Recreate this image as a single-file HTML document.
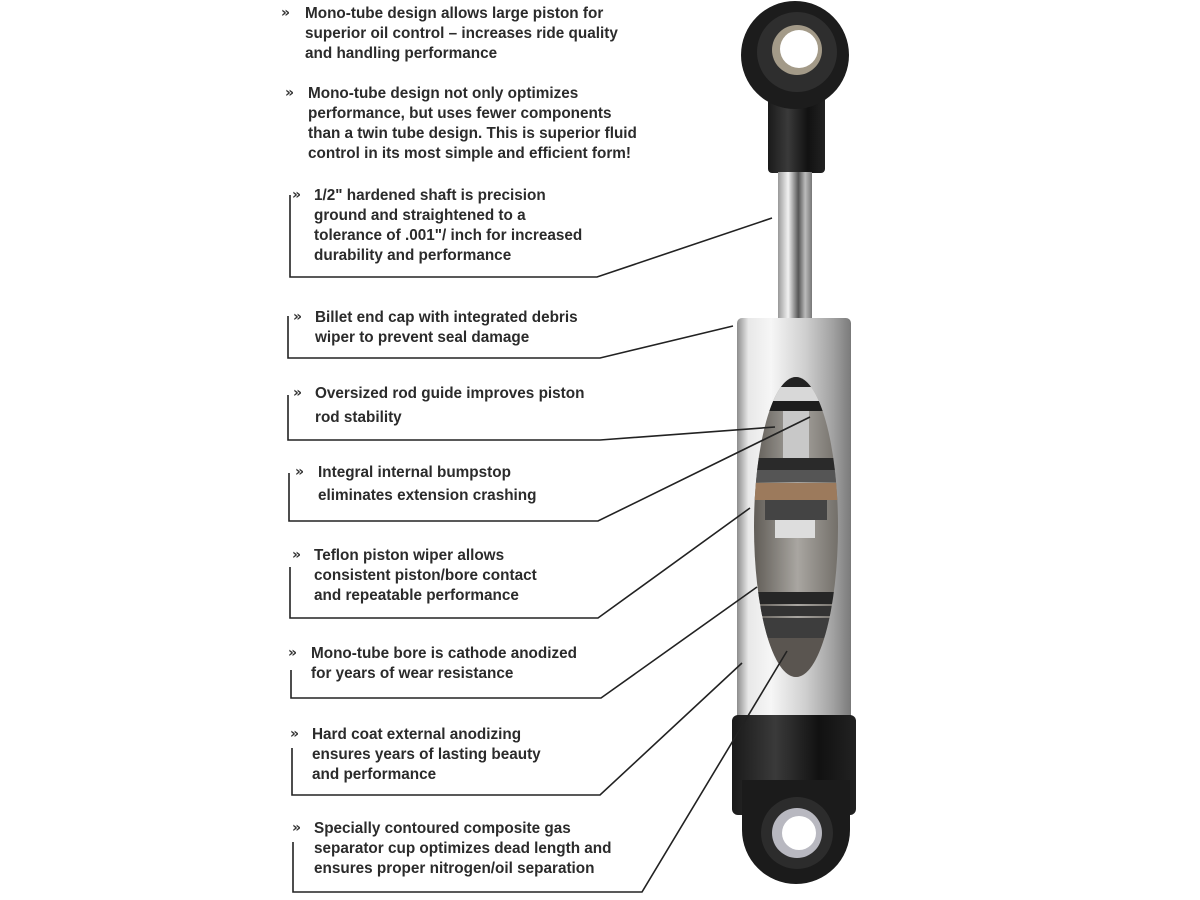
<!DOCTYPE html>
<html><head><meta charset="utf-8"><style>
html,body{margin:0;padding:0;background:#fff;}
#c{position:relative;width:1200px;height:900px;overflow:hidden;background:#fff;}
.t{position:absolute;font-family:"Liberation Sans",sans-serif;font-weight:bold;font-size:15.3px;color:#2b2b2b;line-height:20px;white-space:nowrap;letter-spacing:0px;}
.b{position:absolute;font-family:"DejaVu Sans",sans-serif;font-size:14px;color:#333;font-weight:bold;line-height:20px;}
svg{position:absolute;left:0;top:0;}
</style></head><body><div id="c">
<svg width="1200" height="900" viewBox="0 0 1200 900">
<defs>
<linearGradient id="body" x1="0" x2="1">
<stop offset="0" stop-color="#8d8d8d"/><stop offset="0.1" stop-color="#e8e8e8"/><stop offset="0.3" stop-color="#f6f6f6"/><stop offset="0.6" stop-color="#cfcfcf"/><stop offset="0.85" stop-color="#a0a0a0"/><stop offset="1" stop-color="#7a7a7a"/>
</linearGradient>
<linearGradient id="rod" x1="0" x2="1">
<stop offset="0" stop-color="#999"/><stop offset="0.3" stop-color="#f2f2f2"/><stop offset="0.6" stop-color="#555"/><stop offset="0.8" stop-color="#bbb"/><stop offset="1" stop-color="#777"/>
</linearGradient>
<linearGradient id="blk" x1="0" x2="1">
<stop offset="0" stop-color="#1a1a1a"/><stop offset="0.35" stop-color="#3a3a3a"/><stop offset="0.7" stop-color="#111"/><stop offset="1" stop-color="#222"/>
</linearGradient>
<linearGradient id="win" x1="0" x2="1">
<stop offset="0" stop-color="#5a5650"/><stop offset="0.5" stop-color="#a9a6a1"/><stop offset="1" stop-color="#6a6660"/>
</linearGradient>
<clipPath id="wc"><ellipse cx="796" cy="527" rx="42" ry="150"/></clipPath>
</defs>
<rect x="768" y="95" width="57" height="78" rx="4" fill="url(#blk)"/>
<circle cx="795" cy="55" r="54" fill="#1c1c1c"/>
<circle cx="797" cy="52" r="40" fill="#2e2e2e"/>
<circle cx="797" cy="50" r="25" fill="#a39a88"/>
<circle cx="799" cy="49" r="19" fill="#fff"/>
<rect x="778" y="172" width="34" height="148" fill="url(#rod)"/>
<rect x="737" y="318" width="114" height="405" rx="5" fill="url(#body)"/>
<g clip-path="url(#wc)">
<rect x="750" y="370" width="95" height="310" fill="url(#win)"/>
<rect x="750" y="375" width="95" height="12" fill="#222"/>
<rect x="750" y="387" width="95" height="14" fill="#d8d8d8"/>
<rect x="750" y="401" width="95" height="10" fill="#1e1e1e"/>
<rect x="783" y="411" width="26" height="48" fill="#c8c8c8"/>
<rect x="750" y="458" width="95" height="12" fill="#2a2a2a"/>
<rect x="750" y="470" width="95" height="12" fill="#555"/>
<rect x="750" y="483" width="95" height="17" fill="#9c7a5c"/>
<rect x="765" y="500" width="62" height="20" fill="#444"/>
<rect x="775" y="520" width="40" height="18" fill="#ddd"/>
<rect x="750" y="592" width="95" height="12" fill="#262626"/>
<rect x="750" y="606" width="95" height="10" fill="#333"/>
<rect x="750" y="618" width="95" height="20" fill="#3d3d3d"/>
<rect x="750" y="638" width="95" height="45" fill="#5a5550"/>
</g>
<rect x="732" y="715" width="124" height="100" rx="6" fill="url(#blk)"/>
<path d="M742 780 L850 780 L850 830 A54 54 0 0 1 742 830 Z" fill="#1b1b1b"/>
<circle cx="797" cy="833" r="36" fill="#2c2c2c"/>
<circle cx="797" cy="833" r="25" fill="#b8b8c0"/>
<circle cx="799" cy="833" r="17" fill="#fff"/>
<g fill="none" stroke="#222" stroke-width="1.6">
<polyline points="290,195 290,277 597,277 772,218"/>
<polyline points="288,316 288,358 600,358 733,326"/>
<polyline points="288,395 288,440 600,440 775,427"/>
<polyline points="289,473 289,521 598,521 810,417"/>
<polyline points="290,567 290,618 598,618 750,508"/>
<polyline points="291,670 291,698 601,698 757,587"/>
<polyline points="292,748 292,795 600,795 742,663"/>
<polyline points="293,842 293,892 642,892 787,651"/>
</g>
</svg>
<div class="b" style="left:281px;top:3px">»</div>
<div class="t" style="left:305px;top:4px">Mono-tube design allows large piston for<br>superior oil control – increases ride quality<br>and handling performance</div>
<div class="b" style="left:285px;top:83px">»</div>
<div class="t" style="left:308px;top:84px">Mono-tube design not only optimizes<br>performance, but uses fewer components<br>than a twin tube design. This is superior fluid<br>control in its most simple and efficient form!</div>
<div class="b" style="left:292px;top:185px">»</div>
<div class="t" style="left:314px;top:186px">1/2" hardened shaft is precision<br>ground and straightened to a<br>tolerance of .001"/ inch for increased<br>durability and performance</div>
<div class="b" style="left:293px;top:307px">»</div>
<div class="t" style="left:315px;top:308px">Billet end cap with integrated debris<br>wiper to prevent seal damage</div>
<div class="b" style="left:293px;top:383px">»</div>
<div class="t" style="left:315px;top:382px;line-height:24px">Oversized rod guide improves piston<br>rod stability</div>
<div class="b" style="left:295px;top:462px">»</div>
<div class="t" style="left:318px;top:461px;line-height:23px">Integral internal bumpstop<br>eliminates extension crashing</div>
<div class="b" style="left:292px;top:545px">»</div>
<div class="t" style="left:314px;top:546px">Teflon piston wiper allows<br>consistent piston/bore contact<br>and repeatable performance</div>
<div class="b" style="left:288px;top:643px">»</div>
<div class="t" style="left:311px;top:644px">Mono-tube bore is cathode anodized<br>for years of wear resistance</div>
<div class="b" style="left:290px;top:724px">»</div>
<div class="t" style="left:312px;top:725px">Hard coat external anodizing<br>ensures years of lasting beauty<br>and performance</div>
<div class="b" style="left:292px;top:818px">»</div>
<div class="t" style="left:314px;top:819px">Specially contoured composite gas<br>separator cup optimizes dead length and<br>ensures proper nitrogen/oil separation</div>
</div></body></html>
